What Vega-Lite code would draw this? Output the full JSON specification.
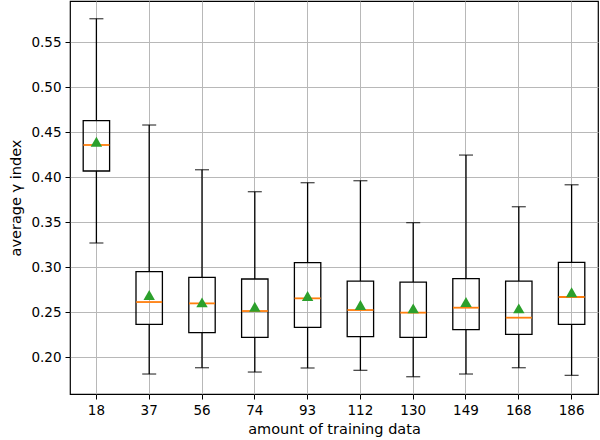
{
  "$schema": "https://vega.github.io/schema/vega-lite/v6.json",
  "width": 528,
  "height": 393,
  "autosize": {"type": "none"},
  "padding": {"left": 70, "top": 1, "right": 2, "bottom": 46},
  "background": "white",
  "config": {
    "view": {"stroke": "black", "strokeWidth": 1.2},
    "font": "DejaVu Sans",
    "axis": {
      "labelFont": "DejaVu Sans",
      "titleFont": "DejaVu Sans",
      "labelFontSize": 13.5,
      "titleFontSize": 14.5,
      "titleFontWeight": "normal",
      "labelColor": "#000000",
      "titleColor": "#000000",
      "domain": false,
      "tickColor": "#000000",
      "tickSize": 5,
      "tickWidth": 1,
      "grid": true,
      "gridColor": "#b8b8b8",
      "gridWidth": 1
    }
  },
  "data": {
    "values": [
      {"n": "18", "low": 0.3267, "q1": 0.4067, "med": 0.4356, "q3": 0.4626, "high": 0.5759, "mean": 0.4392},
      {"n": "37", "low": 0.1811, "q1": 0.2363, "med": 0.2611, "q3": 0.2948, "high": 0.4578, "mean": 0.2689},
      {"n": "56", "low": 0.1881, "q1": 0.2270, "med": 0.2596, "q3": 0.2885, "high": 0.4081, "mean": 0.2607},
      {"n": "74", "low": 0.1833, "q1": 0.2219, "med": 0.2511, "q3": 0.2867, "high": 0.3837, "mean": 0.2559},
      {"n": "93", "low": 0.1878, "q1": 0.2330, "med": 0.2652, "q3": 0.3048, "high": 0.3937, "mean": 0.2678},
      {"n": "112", "low": 0.1852, "q1": 0.2226, "med": 0.2522, "q3": 0.2844, "high": 0.3959, "mean": 0.2578},
      {"n": "130", "low": 0.1781, "q1": 0.2219, "med": 0.2493, "q3": 0.2833, "high": 0.3493, "mean": 0.2541},
      {"n": "149", "low": 0.1811, "q1": 0.2304, "med": 0.2548, "q3": 0.2870, "high": 0.4244, "mean": 0.2611},
      {"n": "168", "low": 0.1881, "q1": 0.2252, "med": 0.2437, "q3": 0.2844, "high": 0.3670, "mean": 0.2541},
      {"n": "186", "low": 0.1796, "q1": 0.2363, "med": 0.2667, "q3": 0.3052, "high": 0.3914, "mean": 0.2719}
    ]
  },
  "encoding": {
    "x": {
      "field": "n",
      "type": "ordinal",
      "sort": null,
      "scale": {"type": "band", "paddingInner": 0, "paddingOuter": 0},
      "axis": {"title": "amount of training data", "labelAngle": 0, "labelPadding": 4, "titlePadding": 6, "bandPosition": 0.5}
    }
  },
  "layer": [
    {
      "mark": {"type": "rule", "color": "black", "strokeWidth": 1.3},
      "encoding": {
        "y": {
          "field": "low",
          "type": "quantitative",
          "scale": {"domain": [0.1589, 0.5956], "nice": false, "zero": false},
          "axis": {"title": "average γ index", "values": [0.2, 0.25, 0.3, 0.35, 0.4, 0.45, 0.5, 0.55], "format": ".2f", "labelPadding": 4, "titlePadding": 7}
        },
        "y2": {"field": "q1"}
      }
    },
    {
      "mark": {"type": "rule", "color": "black", "strokeWidth": 1.3},
      "encoding": {
        "y": {"field": "q3", "type": "quantitative"},
        "y2": {"field": "high"}
      }
    },
    {
      "mark": {"type": "tick", "color": "black", "size": 14, "thickness": 1.3, "orient": "horizontal"},
      "encoding": {"y": {"field": "low", "type": "quantitative"}}
    },
    {
      "mark": {"type": "tick", "color": "black", "size": 14, "thickness": 1.3, "orient": "horizontal"},
      "encoding": {"y": {"field": "high", "type": "quantitative"}}
    },
    {
      "mark": {"type": "bar", "fill": null, "fillOpacity": 0, "stroke": "black", "strokeWidth": 1.3, "width": {"band": 0.5}},
      "encoding": {
        "y": {"field": "q1", "type": "quantitative"},
        "y2": {"field": "q3"}
      }
    },
    {
      "mark": {"type": "tick", "color": "#ff7f0e", "size": 26, "thickness": 1.8, "orient": "horizontal", "opacity": 1},
      "encoding": {"y": {"field": "med", "type": "quantitative"}}
    },
    {
      "mark": {"type": "point", "shape": "triangle-up", "filled": true, "color": "#2ca02c", "opacity": 1, "size": 130},
      "encoding": {"y": {"field": "mean", "type": "quantitative"}}
    }
  ]
}
